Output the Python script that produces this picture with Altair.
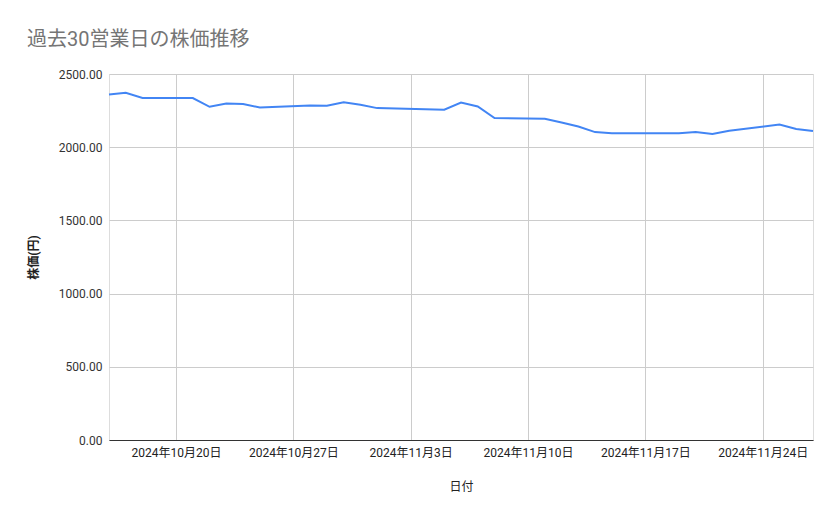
import altair as alt
import pandas as pd

dates = [
    "2024-10-16", "2024-10-17", "2024-10-18", "2024-10-21", "2024-10-22",
    "2024-10-23", "2024-10-24", "2024-10-25", "2024-10-28", "2024-10-29",
    "2024-10-30", "2024-10-31", "2024-11-01", "2024-11-05", "2024-11-06",
    "2024-11-07", "2024-11-08", "2024-11-11", "2024-11-12", "2024-11-13",
    "2024-11-14", "2024-11-15", "2024-11-18", "2024-11-19", "2024-11-20",
    "2024-11-21", "2024-11-22", "2024-11-25", "2024-11-26", "2024-11-27",
]
prices = [
    2360, 2372, 2336, 2336, 2276,
    2299, 2295, 2271, 2285, 2283,
    2307, 2290, 2267, 2256, 2305,
    2278, 2199, 2194, 2169, 2141,
    2103, 2096, 2096, 2096, 2104,
    2090, 2112, 2155, 2125, 2110,
]
tick_dates = [(10, 20), (10, 27), (11, 3), (11, 10), (11, 17), (11, 24)]
y_ticks = [0, 500, 1000, 1500, 2000, 2500]

df = pd.DataFrame({"date": dates, "price": prices})

FONT = "Roboto, 'Noto Sans CJK JP', sans-serif"

x_axis = alt.Axis(
    values=[alt.DateTime(year=2024, month=m, date=d, utc=True) for m, d in tick_dates],
    format="%Y年%-m月%-d日",
    title="日付",
    grid=True,
    gridColor="#cccccc",
    domain=True,
    domainColor="#333333",
    domainWidth=1,
    ticks=False,
    labelPadding=7,
    labelFontSize=12,
    labelColor="#222222",
    labelFont=FONT,
    titleFont=FONT,
    titleFontSize=12,
    titleFontWeight="normal",
    titleColor="#222222",
    titleBaseline="middle",
    titleY=46,
    labelFlush=False,
    labelOverlap=False,
)

y_axis = alt.Axis(
    values=y_ticks,
    format=".2f",
    title="株価(円)",
    grid=True,
    gridColor="#cccccc",
    domain=False,
    ticks=False,
    labelPadding=7,
    labelFontSize=12,
    labelColor="#333333",
    labelFont=FONT,
    titleFont=FONT,
    titleFontSize=12,
    titleFontWeight="bold",
    titleColor="#222222",
    titleBaseline="middle",
    titleAngle=-90,
    titleX=-76,
    titleY=183,
)

chart = (
    alt.Chart(df)
    .mark_line(color="#4285F4", strokeWidth=2)
    .encode(
        x=alt.X(
            "date:T",
            scale=alt.Scale(
                type="utc",
                domain=[
                    alt.DateTime(year=2024, month=10, date=16, utc=True),
                    alt.DateTime(year=2024, month=11, date=27, utc=True),
                ],
            ),
            axis=x_axis,
        ),
        y=alt.Y("price:Q", scale=alt.Scale(domain=[0, 2500], nice=False), axis=y_axis),
    )
    .properties(
        width=704,
        height=366,
        autosize=alt.AutoSizeParams(type="none"),
        padding={"left": 101, "top": 66, "right": 18, "bottom": 60},
        title=alt.TitleParams(
            "過去30営業日の株価推移",
            anchor="start",
            frame="group",
            dx=-82,
            dy=25,
            offset=27,
            baseline="alphabetic",
            fontSize=20,
            fontWeight="normal",
            color="#757575",
            font=FONT,
        ),
    )
    .configure_view(stroke=None)
    .configure(background="white")
)

chart.save("out.html", embed_options={"renderer": "svg", "actions": False})
